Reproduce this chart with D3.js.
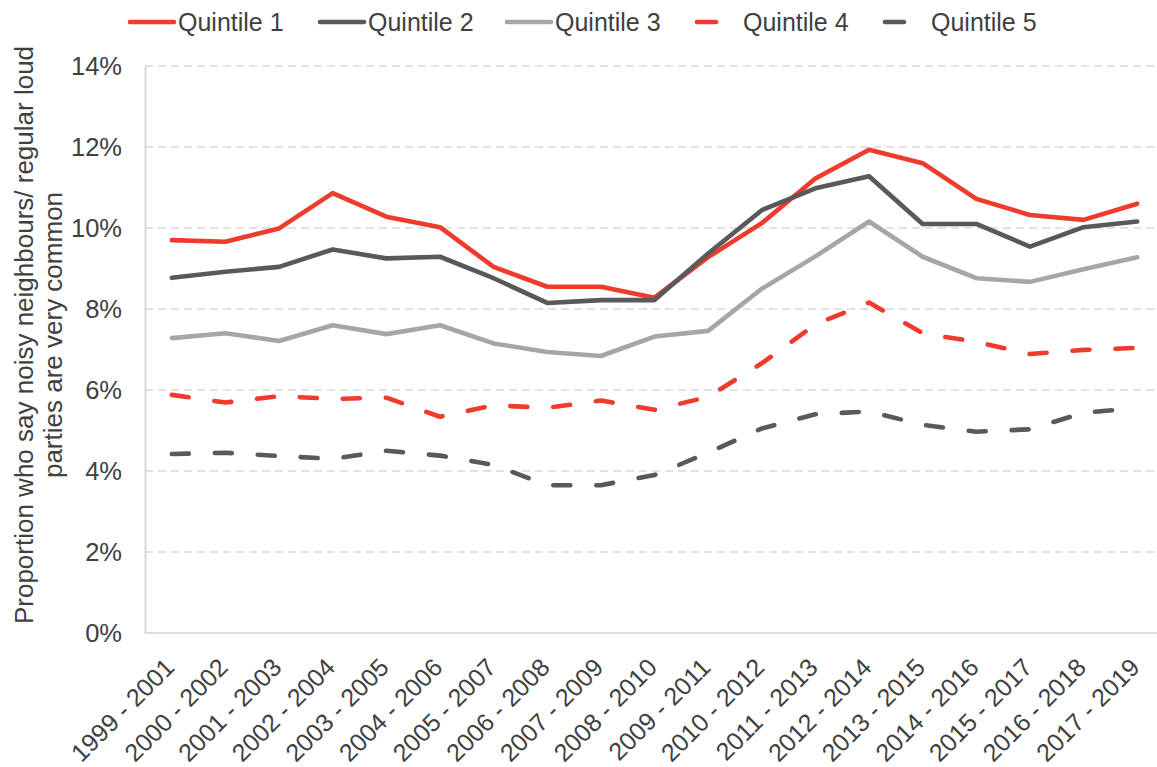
<!DOCTYPE html>
<html>
<head>
<meta charset="utf-8">
<script src="https://cdn.jsdelivr.net/npm/d3@7"></script>
<style>
  html, body { margin: 0; padding: 0; background: #fff; }
  svg { display: block; font-family: "Liberation Sans", Arial, sans-serif; }
</style>
</head>
<body>
<svg id="chart" width="1157" height="767"></svg>
<script>
// Three-year periods on the x axis
const categories = [
  "1999 - 2001", "2000 - 2002", "2001 - 2003", "2002 - 2004", "2003 - 2005",
  "2004 - 2006", "2005 - 2007", "2006 - 2008", "2007 - 2009", "2008 - 2010",
  "2009 - 2011", "2010 - 2012", "2011 - 2013", "2012 - 2014", "2013 - 2015",
  "2014 - 2016", "2015 - 2017", "2016 - 2018", "2017 - 2019"
];

// Share (%) saying noisy neighbours / loud parties are very common, by quintile
const quintile1 = [9.70, 9.66, 9.99, 10.86, 10.28, 10.02, 9.04, 8.55, 8.55, 8.28,
                   9.28, 10.12, 11.22, 11.93, 11.60, 10.72, 10.32, 10.20, 10.60];
const quintile2 = [8.77, 8.92, 9.04, 9.47, 9.25, 9.29, 8.76, 8.15, 8.22, 8.22,
                   9.37, 10.44, 10.98, 11.28, 10.10, 10.10, 9.54, 10.02, 10.16];
const quintile3 = [7.28, 7.40, 7.21, 7.60, 7.38, 7.60, 7.15, 6.94, 6.84, 7.32,
                   7.46, 8.50, 9.30, 10.16, 9.29, 8.76, 8.67, 8.98, 9.28];
const quintile4 = [5.88, 5.69, 5.85, 5.78, 5.81, 5.34, 5.62, 5.56, 5.74, 5.51,
                   5.83, 6.66, 7.62, 8.16, 7.40, 7.19, 6.89, 6.99, 7.04];
const quintile5 = [4.42, 4.45, 4.37, 4.30, 4.50, 4.38, 4.15, 3.65, 3.65, 3.90,
                   4.45, 5.05, 5.40, 5.47, 5.14, 4.97, 5.03, 5.44, 5.55];

const seriesNames = ["Quintile 1", "Quintile 2", "Quintile 3", "Quintile 4", "Quintile 5"];
const yTicks = [0, 2, 4, 6, 8, 10, 12, 14];

const RED = "#EF3B2C", DARK = "#595959", LIGHT = "#A6A6A6", TEXT = "#404040";
const DASH = "17,26";
const FONT = 25;

const series = [
  { name: seriesNames[0], values: quintile1, color: RED,   dash: null },
  { name: seriesNames[1], values: quintile2, color: DARK,  dash: null },
  { name: seriesNames[2], values: quintile3, color: LIGHT, dash: null },
  { name: seriesNames[3], values: quintile4, color: RED,   dash: DASH },
  { name: seriesNames[4], values: quintile5, color: DARK,  dash: DASH }
];

const svg = d3.select("#chart");
const plot = { left: 145, right: 1164, top: 66, bottom: 633 };

const x = d3.scaleBand().domain(categories).range([plot.left, plot.right]);
const xc = c => x(c) + x.bandwidth() / 2;
const y = d3.scaleLinear().domain([0, 14]).range([plot.bottom, plot.top]);

// Horizontal dashed gridlines
svg.append("g")
  .selectAll("line")
  .data(yTicks.filter(t => t > 0))
  .join("line")
  .attr("x1", plot.left).attr("x2", 1157)
  .attr("y1", d => y(d)).attr("y2", d => y(d))
  .attr("stroke", "#d9d9d9")
  .attr("stroke-width", 1.3)
  .attr("stroke-dasharray", "8,5");

// Y axis with percentage labels
const yAxis = svg.append("g")
  .attr("transform", `translate(${plot.left},0)`)
  .call(d3.axisLeft(y).tickValues(yTicks).tickSize(0).tickPadding(23)
    .tickFormat(d => d + "%"));
yAxis.select(".domain").attr("stroke", "#d0d0d0").attr("stroke-width", 1.6);
yAxis.selectAll("text").attr("fill", TEXT).attr("font-size", FONT + 0.5)
  .attr("font-family", "Liberation Sans, Arial, sans-serif");

// X axis with rotated period labels
const xAxis = svg.append("g")
  .attr("transform", `translate(0,${plot.bottom})`)
  .call(d3.axisBottom(x).tickSize(0).tickPadding(0));
xAxis.select(".domain").attr("stroke", "#d0d0d0").attr("stroke-width", 1.6)
  .attr("d", `M${plot.left},0H1157`);
xAxis.selectAll("text")
  .attr("fill", TEXT).attr("font-size", FONT)
  .attr("font-family", "Liberation Sans, Arial, sans-serif")
  .attr("text-anchor", "end")
  .attr("dy", 0)
  .attr("y", 0)
  .attr("transform", "translate(4,36) rotate(-45)");

// Y axis title on two lines
const yTitle = svg.append("text")
  .attr("transform", "translate(0,335) rotate(-90)")
  .attr("text-anchor", "middle")
  .attr("fill", TEXT)
  .attr("font-size", 26);
yTitle.append("tspan").attr("x", 0).attr("y", 33)
  .text("Proportion who say noisy neighbours/ regular loud");
yTitle.append("tspan").attr("x", 0).attr("y", 62)
  .text("parties are very common");

// Series lines
const line = d3.line()
  .x((d, i) => xc(categories[i]))
  .y(d => y(d));

svg.append("g")
  .selectAll("path")
  .data(series)
  .join("path")
  .attr("d", d => line(d.values))
  .attr("fill", "none")
  .attr("stroke", d => d.color)
  .attr("stroke-width", 4.6)
  .attr("stroke-linejoin", "round")
  .attr("stroke-linecap", "round")
  .attr("stroke-dasharray", d => d.dash);

// Legend
const legendX = [130, 320, 507, 697, 885];
const legend = svg.append("g")
  .selectAll("g")
  .data(series)
  .join("g")
  .attr("transform", (d, i) => `translate(${legendX[i]},22)`);
legend.append("line")
  .attr("x1", 0).attr("x2", 44).attr("y1", 0).attr("y2", 0)
  .attr("stroke", d => d.color)
  .attr("stroke-width", 4.6)
  .attr("stroke-linecap", "round")
  .attr("stroke-dasharray", d => d.dash ? "19,40" : null);
legend.append("text")
  .attr("x", (d, i) => d.dash ? 46 : 48)
  .attr("y", 9)
  .attr("fill", TEXT)
  .attr("font-size", FONT)
  .text(d => d.name);
</script>
</body>
</html>
